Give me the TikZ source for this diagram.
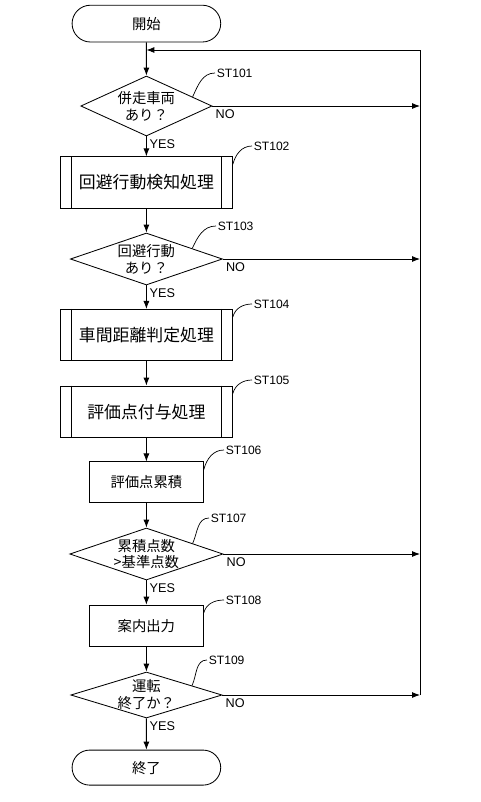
\documentclass[tikz,border=0pt]{standalone}
\usepackage{fontspec}
\setmainfont{Liberation Sans}
\newfontfamily\jp{Noto Sans CJK JP}
\usetikzlibrary{shapes.geometric,shapes.misc,arrows.meta,calc}

\begin{document}
\begin{tikzpicture}[
      line width=0.6pt,
      jptext/.style={font=\fontsize{10.2}{12}\selectfont\jp, align=center},
      term/.style={
        draw,
        rounded rectangle,
        jptext,
        minimum width=3.95cm,
        minimum height=0.92cm
      },
      decision/.style={
        draw,
        diamond,
        inner sep=0pt
      },
      box/.style={
        draw,
        jptext,
        minimum width=2.85cm,
        minimum height=1.025cm
      },
      subproc/.style={
        draw,
        font=\fontsize{12}{14}\selectfont\jp,
        minimum width=4.3cm,
        minimum height=1.28cm,
        append after command={
          ([xshift=2.75mm]\tikzlastnode.north west) edge ([xshift=2.75mm]\tikzlastnode.south west)
          ([xshift=-2.75mm]\tikzlastnode.north east) edge ([xshift=-2.75mm]\tikzlastnode.south east)
        }
      },
      stlabel/.style={font=\fontsize{8.6}{10}\selectfont, anchor=west, inner sep=1pt},
      yn/.style={font=\fontsize{9}{10}\selectfont, inner sep=2pt},
      lead/.style={line width=0.5pt},
      arr/.style={-{Latex[length=2mm,width=1.5mm]}}
    ]
    \useasboundingbox (0,0) rectangle (12,-20.05);

    \node[term] (start) at (3.66,-0.59) {開始};
    \coordinate (jn) at (3.66,-1.25);
    \coordinate (rt) at (10.5,-1.25);

    \node[decision, minimum width=3.28cm, minimum height=1.5cm,
      label={[jptext]center:併走車両\\あり？}] (d1) at (3.66,-2.65) {};
    \node[subproc] (p1) at (3.66,-4.56) {回避行動検知処理};
    \node[decision, minimum width=3.8cm, minimum height=1.3cm,
      label={[jptext]center:回避行動\\あり？}] (d2) at (3.66,-6.475) {};
    \node[subproc] (p2) at (3.66,-8.375) {車間距離判定処理};
    \node[subproc] (p3) at (3.66,-10.29) {評価点付与処理};
    \node[box] (b6) at (3.66,-12.06) {評価点累積};
    \node[decision, minimum width=3.83cm, minimum height=1.3cm,
      label={[jptext]center:累積点数\\>基準点数}] (d4) at (3.66,-13.85) {};
    \node[box] (b8) at (3.66,-15.64) {案内出力};
    \node[decision, minimum width=3.78cm, minimum height=1.15cm,
      label={[jptext]center:運転\\終了か？}] (d5) at (3.66,-17.375) {};
    \node[term, minimum height=0.875cm] (end) at (3.66,-19.19) {終了};

    \node[stlabel] (st101) at (5.375,-1.825) {ST101};
    \node[stlabel] (st102) at (6.3,-3.65) {ST102};
    \node[stlabel] (st103) at (5.4,-5.65) {ST103};
    \node[stlabel] (st104) at (6.3,-7.6) {ST104};
    \node[stlabel] (st105) at (6.3,-9.5) {ST105};
    \node[stlabel] (st106) at (5.6,-11.25) {ST106};
    \node[stlabel] (st107) at (5.225,-12.95) {ST107};
    \node[stlabel] (st108) at (5.6,-15.0) {ST108};
    \node[stlabel] (st109) at (5.175,-16.5) {ST109};

    \draw[arr] (start) -- (d1);
    \draw[arr] (d1) -- node[yn, pos=0, anchor=north west] {YES} (p1);
    \draw[arr] (p1) -- (d2);
    \draw[arr] (d2) -- node[yn, pos=0, anchor=north west] {YES} (p2);
    \draw[arr] (p2) -- (p3);
    \draw[arr] (p3) -- (b6);
    \draw[arr] (b6) -- (d4);
    \draw[arr] (d4) -- node[yn, pos=0, anchor=north west] {YES} (b8);
    \draw[arr] (b8) -- (d5);
    \draw[arr] (d5) -- node[yn, pos=0, anchor=north west] {YES} (end);

    \draw[arr] (d1.east) -- node[yn, pos=0, anchor=north west] {NO} (d1.east -| rt);
    \draw[arr] (d2.east) -- node[yn, pos=0, anchor=north west] {NO} (d2.east -| rt);
    \draw[arr] (d4.east) -- node[yn, pos=0, anchor=north west] {NO} (d4.east -| rt);
    \draw[arr] (d5.east) -- node[yn, pos=0, anchor=north west] {NO} (d5.east -| rt);
    \draw[arr] (d5.east -| rt) -- (rt) -- (jn);

    \draw[lead] ($(d1.north)!0.7!(d1.east)$) to[out=65,in=180] (st101.west);
    \draw[lead] ([yshift=-2mm]p1.north east) to[out=75,in=180] (st102.west);
    \draw[lead] ($(d2.north)!0.6!(d2.east)$) to[out=65,in=180] (st103.west);
    \draw[lead] ([yshift=-2mm]p2.north east) to[out=75,in=180] (st104.west);
    \draw[lead] ([yshift=-2mm]p3.north east) to[out=75,in=180] (st105.west);
    \draw[lead] ([yshift=-2mm]b6.north east) to[out=75,in=180] (st106.west);
    \draw[lead] ($(d4.north)!0.6!(d4.east)$) to[out=65,in=180] (st107.west);
    \draw[lead] ([yshift=-2mm]b8.north east) to[out=75,in=180] (st108.west);
    \draw[lead] ($(d5.north)!0.6!(d5.east)$) to[out=65,in=180] (st109.west);
    \end{tikzpicture}
\end{document}
